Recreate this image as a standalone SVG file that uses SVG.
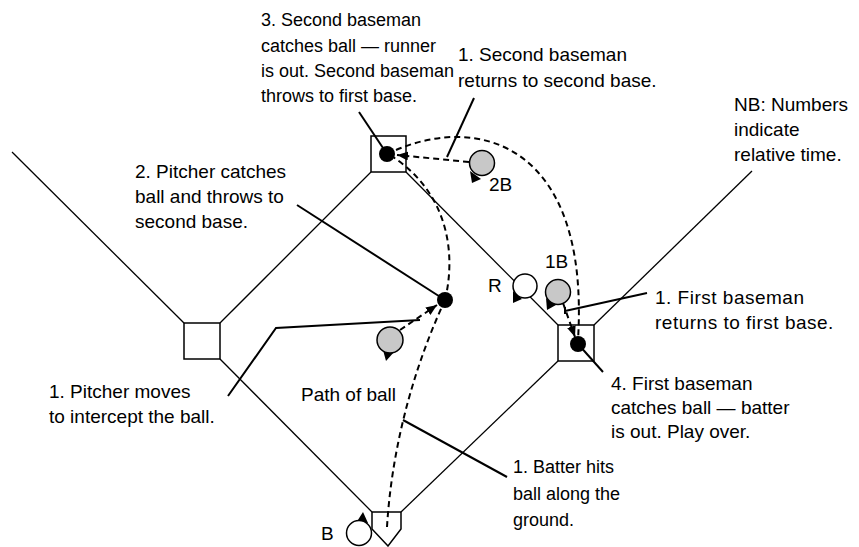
<svg xmlns="http://www.w3.org/2000/svg" width="859" height="547" viewBox="0 0 859 547">
<style>
text{font-family:"Liberation Sans",Arial,Helvetica,sans-serif;font-size:19px;fill:#000}
.wide{letter-spacing:0.5px}
.small{font-size:18px}
.field{fill:none;stroke:#000;stroke-width:1.3}
.base{fill:#fff;stroke:#000;stroke-width:1.5}
.dot{fill:#000}
.gray{fill:#c8c8c8;stroke:#000;stroke-width:1.5}
.white{fill:#fff;stroke:#000;stroke-width:1.5}
.tri{fill:#000}
.dash{fill:none;stroke:#000;stroke-width:2;stroke-dasharray:6 4}
.ptr{fill:none;stroke:#000;stroke-width:2}
</style>
<defs>
<marker id="ah" markerUnits="userSpaceOnUse" markerWidth="12" markerHeight="10" refX="11" refY="4.5" orient="auto">
<path d="M0,0 L11,4.5 L0,9 z" fill="#000"/>
</marker>
</defs>
<rect width="859" height="547" fill="#fff"/>
<g id="field">
<line class="field" x1="12" y1="152" x2="184" y2="323"/>
<line class="field" x1="220" y1="323" x2="371" y2="172"/>
<line class="field" x1="220" y1="359" x2="372" y2="512"/>
<line class="field" x1="406" y1="172" x2="558" y2="325"/>
<line class="field" x1="594" y1="325" x2="752" y2="171"/>
<line class="field" x1="558" y1="361" x2="401" y2="512"/>
</g>
<g id="second-base"><rect class="base" x="371" y="136" width="35" height="36"/></g>
<g id="third-base"><rect class="base" x="184" y="323" width="36" height="36"/></g>
<g id="first-base"><rect class="base" x="558" y="325" width="36" height="36"/></g>
<g id="home-plate"><polygon class="base" points="372,512 401,512 401,529 388,546 372,529"/></g>
<g id="connectors">
<path class="dash" d="M387,527 C391,460 408,380 445,300"/>
<path class="dash" d="M445,300 C457,250 446,192 393,157"/>
<path class="dash" d="M396,150 C480,114 590,145 578,340"/>
<line class="dash" x1="400" y1="330" x2="437" y2="305" marker-end="url(#ah)"/>
<line class="dash" x1="469" y1="162" x2="397" y2="155" marker-end="url(#ah)"/>
<line class="dash" x1="563" y1="303" x2="575" y2="337" marker-end="url(#ah)"/>
<line class="ptr" x1="359" y1="112" x2="387" y2="154"/>
<line class="ptr" x1="474" y1="98" x2="447" y2="157"/>
<line class="ptr" x1="297" y1="205" x2="445" y2="300"/>
<polyline class="ptr" points="228,396 276,328 420,320"/>
<line class="ptr" x1="403" y1="420" x2="507" y2="477"/>
<line class="ptr" x1="647" y1="293" x2="565" y2="311"/>
<line class="ptr" x1="565" y1="307" x2="565" y2="314" stroke-width="1.5"/>
<line class="ptr" x1="578" y1="344" x2="603" y2="372"/>
</g>
<g id="second-baseman-dot"><circle class="dot" cx="387" cy="154" r="8"/></g>
<g id="pitcher-dot"><circle class="dot" cx="445" cy="300" r="8"/></g>
<g id="first-baseman-dot"><circle class="dot" cx="578" cy="344" r="8"/></g>
<g id="player-2B">
<polygon class="tri" points="470,171 481,179 472,183"/>
<circle class="gray" cx="482" cy="163" r="12.5"/>
<text x="489" y="191">2B</text>
</g>
<g id="player-1B">
<polygon class="tri" points="546,298 556,305 547,310"/>
<circle class="gray" cx="558" cy="292" r="12.5"/>
<text x="545" y="268">1B</text>
</g>
<g id="runner-R">
<polygon class="tri" points="513,291 522,299 513,303"/>
<circle class="white" cx="525" cy="286" r="12"/>
<text x="488" y="292">R</text>
</g>
<g id="pitcher">
<polygon class="tri" points="383,350 395,351 386,361"/>
<circle class="gray" cx="390" cy="340" r="13"/>
</g>
<g id="batter-B">
<polygon class="tri" points="356,523 368,523 363,512"/>
<circle class="white" cx="359" cy="533" r="12.5"/>
<text x="321" y="540">B</text>
</g>
<g id="label-3" class="small">
<text class="small" x="261" y="26">3. Second baseman</text>
<text class="small" x="261" y="52">catches ball — runner</text>
<text class="small" x="261" y="77">is out. Second baseman</text>
<text class="small" x="261" y="102">throws to first base.</text>
</g>
<g id="label-1-second">
<text x="458" y="61">1. Second baseman</text>
<text x="458" y="87">returns to second base.</text>
</g>
<g id="label-nb">
<text x="734" y="111">NB: Numbers</text>
<text x="734" y="136">indicate</text>
<text x="734" y="161">relative time.</text>
</g>
<g id="label-2">
<text x="135" y="178">2. Pitcher catches</text>
<text x="135" y="203">ball and throws to</text>
<text x="135" y="228">second base.</text>
</g>
<g id="label-1-first">
<text class="wide" x="655" y="304">1. First baseman</text>
<text class="wide" x="655" y="329">returns to first base.</text>
</g>
<g id="label-1-pitcher">
<text x="49" y="398">1. Pitcher moves</text>
<text x="49" y="423">to intercept the ball.</text>
</g>
<g id="label-path"><text x="301" y="401">Path of ball</text></g>
<g id="label-4">
<text x="611" y="390">4. First baseman</text>
<text x="611" y="414">catches ball — batter</text>
<text x="611" y="438">is out. Play over.</text>
</g>
<g id="label-1-batter">
<text class="small" x="513" y="473">1. Batter hits</text>
<text class="small" x="513" y="500">ball along the</text>
<text class="small" x="513" y="526">ground.</text>
</g>
</svg>
